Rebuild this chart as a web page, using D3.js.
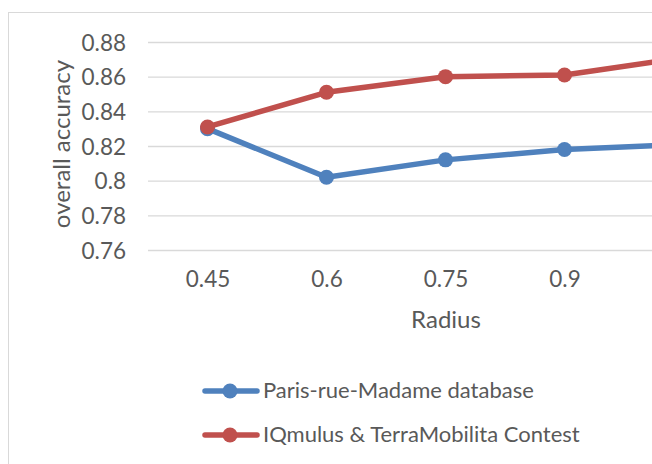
<!DOCTYPE html>
<html><head><meta charset="utf-8">
<script src="https://cdn.jsdelivr.net/npm/d3@7"></script>
<style>body{margin:0;background:#fff;overflow:hidden}</style>
</head><body>
<script>
const categories = ["0.45", "0.6", "0.75", "0.9", "1.05"];
const parisValues = [0.830, 0.802, 0.812, 0.818, 0.821];
const iqmulusValues = [0.831, 0.851, 0.860, 0.861, 0.871];
const yTicks = [0.76, 0.78, 0.80, 0.82, 0.84, 0.86, 0.88];
const seriesNames = ["Paris-rue-Madame database", "IQmulus & TerraMobilita Contest"];
const seriesColors = ["#4F81BD", "#C0504D"];

const W = 652, H = 464;
const svg = d3.select("body").append("svg").attr("width", W).attr("height", H);
const font = "Lato, 'Open Sans', sans-serif";
const txt = "#595959";

// chart frame
svg.append("rect").attr("x", 8.5).attr("y", 12.5).attr("width", 800).attr("height", 600)
  .attr("fill", "none").attr("stroke", "#D9D9D9").attr("stroke-width", 1);

const x = d3.scalePoint().domain(categories).range([148, 743]).padding(0.5);
const y = d3.scaleLinear().domain([0.76, 0.88]).range([250, 42]);

// gridlines
const grid = d3.axisLeft(y).tickValues(yTicks).tickSize(-(743 - 148)).tickFormat("");
const gg = svg.append("g").attr("transform", "translate(148,0)").call(grid);
gg.select(".domain").remove();
gg.selectAll("line").attr("stroke", "#D9D9D9").attr("stroke-width", 1.3);

// y axis labels
const ya = svg.append("g").attr("transform", "translate(126,0)")
  .call(d3.axisLeft(y).tickValues(yTicks).tickSize(0).tickPadding(0).tickFormat(d => d3.format("")(+d.toFixed(2))));
ya.select(".domain").remove();
ya.selectAll("text").attr("fill", txt).attr("dy", null).attr("y", 8)
  .style("font-family", font).style("font-size", "22.5px");

// x axis labels (only categories whose label falls inside the visible page)
const visibleCats = categories.filter(c => x(c) + 20 < W);
const xa = svg.append("g").attr("transform", "translate(0,287)")
  .call(d3.axisBottom(x).tickValues(visibleCats).tickSize(0).tickPadding(0));
xa.select(".domain").remove();
xa.selectAll("text").attr("fill", txt).attr("dy", null).attr("y", 0)
  .style("font-family", font).style("font-size", "22.5px");

// axis titles
svg.append("text").attr("x", 446).attr("y", 328).attr("text-anchor", "middle")
  .attr("fill", txt).style("font-family", font).style("font-size", "24px").text("Radius");
svg.append("text").attr("transform", "translate(70,144) rotate(-90)").attr("text-anchor", "middle")
  .attr("fill", txt).style("font-family", font).style("font-size", "24px").text("overall accuracy");

// series
const series = [parisValues, iqmulusValues];
const line = d3.line().x((d, i) => x(categories[i])).y(d => y(d));
series.forEach((vals, si) => {
  const g = svg.append("g");
  g.append("path").datum(vals).attr("d", line).attr("fill", "none")
    .attr("stroke", seriesColors[si]).attr("stroke-width", 5.5).attr("stroke-linejoin", "round").attr("stroke-linecap", "round");
  g.selectAll("circle").data(vals).join("circle")
    .attr("cx", (d, i) => x(categories[i])).attr("cy", d => y(d)).attr("r", 7.5)
    .attr("fill", seriesColors[si]);
});

// legend
const legY = [391, 435];
seriesNames.forEach((name, i) => {
  const g = svg.append("g");
  g.append("line").attr("x1", 205).attr("x2", 257).attr("y1", legY[i]).attr("y2", legY[i])
    .attr("stroke", seriesColors[i]).attr("stroke-width", 5.5).attr("stroke-linecap", "round");
  g.append("circle").attr("cx", 230).attr("cy", legY[i]).attr("r", 7.5).attr("fill", seriesColors[i]);
  g.append("text").attr("x", 263).attr("y", legY[i] + 7).attr("fill", txt)
    .style("font-family", font).style("font-size", "22px").text(name);
});
</script>
</body></html>
